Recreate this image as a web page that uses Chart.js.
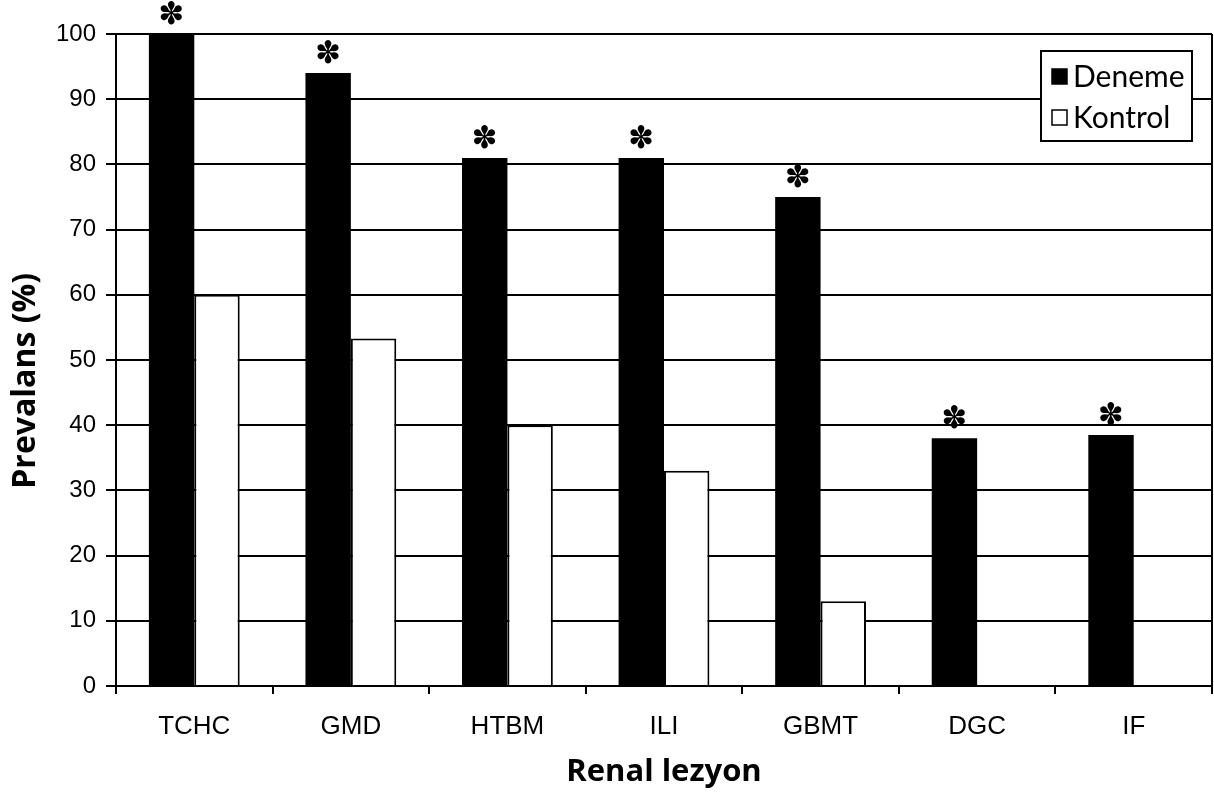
<!DOCTYPE html>
<html>
<head>
<meta charset="utf-8">
<script src="https://cdn.jsdelivr.net/npm/chart.js@4"></script>
<style>
  html, body { margin: 0; padding: 0; background: #fff; }
  #wrap { width: 1214px; height: 796px; }
</style>
</head>
<body>
<div id="wrap"><canvas id="prevChart" width="1214" height="796"></canvas></div>
<script>
var categories = ["TCHC", "GMD", "HTBM", "ILI", "GBMT", "DGC", "IF"];
var denemeValues = [100, 94, 81, 81, 75, 38, 38.5];
var kontrolValues = [60, 53.3, 40, 33, 13, 0, 0];
var significant = [true, true, true, true, true, true, true];
var yTicks = [0, 10, 20, 30, 40, 50, 60, 70, 80, 90, 100];

var ctx = document.getElementById("prevChart").getContext("2d");

// asterisks over the Deneme bars
var starPlugin = {
  id: "stars",
  afterDatasetsDraw: function(chart) {
    var c = chart.ctx;
    var meta = chart.getDatasetMeta(0);
    c.save();
    c.fillStyle = "#000";
    c.font = "31px 'DejaVu Sans'";
    c.textAlign = "center";
    c.textBaseline = "middle";
    meta.data.forEach(function(bar, i) {
      if (!significant[i]) return;
      c.fillText("\u273D", bar.x, bar.y - 18);
    });
    c.restore();
  }
};

// frame line on the right + boxed legend in the corner
var framePlugin = {
  id: "frame",
  afterDraw: function(chart) {
    var c = chart.ctx;
    var a = chart.chartArea;
    c.save();
    c.strokeStyle = "#000";
    c.lineWidth = 2;
    c.beginPath();
    c.moveTo(a.right, a.top);
    c.lineTo(a.right, a.bottom);
    c.stroke();

    var bx = a.right - 171, by = a.top + 17, bw = 151, bh = 90;
    c.fillStyle = "#fff";
    c.fillRect(bx, by, bw, bh);
    c.strokeRect(bx, by, bw, bh);

    c.font = "30px Lato";
    c.textBaseline = "middle";
    c.textAlign = "left";
    chart.data.datasets.forEach(function(ds, i) {
      var cy = by + 26 + i * 41;
      c.fillStyle = ds.backgroundColor;
      c.fillRect(bx + 11, cy - 8, 15, 15);
      c.lineWidth = 1.5;
      c.strokeStyle = "#000";
      c.strokeRect(bx + 11, cy - 8, 15, 15);
      c.fillStyle = "#000";
      c.fillText(ds.label, bx + 32, cy);
    });
    c.restore();
  }
};

new Chart(ctx, {
  type: "bar",
  data: {
    labels: categories,
    datasets: [
      {
        label: "Deneme",
        data: denemeValues,
        backgroundColor: "#000",
        borderColor: "#000",
        borderWidth: 0,
        barPercentage: 1,
        categoryPercentage: 0.58
      },
      {
        label: "Kontrol",
        data: kontrolValues,
        backgroundColor: "#fff",
        borderColor: "#000",
        borderWidth: 2,
        barPercentage: 1,
        categoryPercentage: 0.58
      }
    ]
  },
  options: {
    responsive: false,
    animation: false,
    layout: { padding: { top: 34, right: 2, left: 0, bottom: 0 } },
    plugins: {
      legend: { display: false },
      tooltip: { enabled: false }
    },
    scales: {
      x: {
        grid: {
          drawOnChartArea: false,
          drawTicks: true,
          tickLength: 8,
          color: "#000",
          lineWidth: 2
        },
        border: { color: "#000", width: 2 },
        ticks: {
          color: "#000",
          padding: 17,
          font: { family: "'Liberation Sans', Arial", size: 26 }
        },
        title: {
          display: true,
          text: "Renal lezyon",
          color: "#000",
          padding: { top: 0, bottom: 5 },
          font: { family: "'Open Sans'", size: 31, weight: "bold" }
        },
        afterFit: function(s) { s.height = 110; }
      },
      y: {
        min: 0,
        max: 100,
        afterBuildTicks: function(s) {
          s.ticks = yTicks.map(function(v) { return { value: v }; });
        },
        grid: {
          color: "#000",
          lineWidth: 2,
          tickLength: 10
        },
        border: { color: "#000", width: 2 },
        ticks: {
          color: "#000",
          padding: 10,
          font: { family: "'Liberation Sans', Arial", size: 24 }
        },
        title: {
          display: true,
          text: "Prevalans (%)     ",
          color: "#000",
          padding: { top: 7, bottom: 0 },
          font: { family: "'Open Sans'", size: 32, weight: "bold" }
        },
        afterFit: function(s) { s.width = 116; }
      }
    }
  },
  plugins: [starPlugin, framePlugin]
});
</script>
</body>
</html>
